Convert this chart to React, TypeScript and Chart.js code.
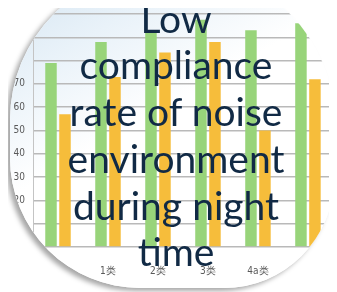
import React, { useEffect, useRef } from "react";
import { Chart, registerables } from "chart.js";

Chart.register(...registerables);

const categories = ["0类", "1类", "2类", "3类", "4a类", "4b类"];
const daytimeRate = [79, 88, 93, 97.5, 93, 96];
const nighttimeRate = [57, 73, 83.5, 88, 50, 72];
const shownTicks = [20, 30, 40, 50, 60, 70];
const titleLines = ["Low", "compliance", "rate of noise", "environment", "during night", "time"];

const tickFont = "'DejaVu Sans Condensed', 'Liberation Sans Narrow', 'Liberation Sans', sans-serif";

export default function App() {
  const ref = useRef<HTMLCanvasElement | null>(null);

  useEffect(() => {
    if (!ref.current) return;
    const chart = new Chart(ref.current, {
      type: "bar",
      data: {
        labels: categories,
        datasets: [
          {
            label: "昼间",
            data: daytimeRate,
            backgroundColor: "#98d47a",
            borderWidth: 0,
            categoryPercentage: 0.56,
            barPercentage: 0.82,
          },
          {
            label: "夜间",
            data: nighttimeRate,
            backgroundColor: "#f6bd3b",
            borderWidth: 0,
            categoryPercentage: 0.56,
            barPercentage: 0.82,
          },
        ],
      },
      options: {
        responsive: false,
        animation: false,
        devicePixelRatio: 1,
        layout: { padding: { top: 5, right: 4, left: 0, bottom: 0 } },
        plugins: {
          legend: { display: false },
          title: { display: false },
          tooltip: { enabled: false },
        },
        scales: {
          x: {
            grid: { display: false, drawTicks: false },
            border: { display: false },
            ticks: {
              color: "#595959",
              padding: 18,
              font: { family: tickFont, size: 10 },
              maxRotation: 0,
              autoSkip: false,
            },
            afterFit: (scale: any) => {
              scale.height = 45;
            },
          },
          y: {
            min: 0,
            max: 100,
            grid: { color: "#b9b9b9", lineWidth: 1.5, drawTicks: false },
            border: { display: true, color: "#c4c4c4", width: 1 },
            ticks: {
              stepSize: 10,
              padding: 8,
              color: "#595959",
              font: { family: tickFont, size: 10 },
              callback: (v: any) => (shownTicks.includes(Number(v)) ? String(v) : ""),
            },
            afterFit: (scale: any) => {
              scale.width = 33;
            },
          },
        },
      },
    });
    return () => chart.destroy();
  }, []);

  return (
    <div
      style={{
        position: "relative",
        width: 337,
        height: 292,
        margin: "-8px 0 0 -8px",
        overflow: "hidden",
        background: "#ffffff",
      }}
    >
      <div
        style={{
          position: "absolute",
          left: 10,
          top: -30,
          width: 324,
          height: 318,
          borderRadius: "150px 150px 110px 130px",
          overflow: "hidden",
          background: "linear-gradient(150deg, #d3e4f1 0%, #e9f2f9 22%, #ffffff 45%)",
          boxShadow: "-4px 3px 5px rgba(0,0,0,0.35)",
        }}
      >
        <canvas
          ref={ref}
          width={337}
          height={292}
          style={{ position: "absolute", left: -10, top: 30, width: 337, height: 292 }}
        />
      </div>
      <div
        style={{
          position: "absolute",
          left: 26,
          width: 300,
          top: -5.5,
          textAlign: "center",
          fontFamily: "Lato, 'Open Sans', sans-serif",
          fontSize: 39,
          lineHeight: "46.8px",
          color: "#112a45",
          whiteSpace: "nowrap",
        }}
      >
        {titleLines.map((t, i) => (
          <div key={i}>{t}</div>
        ))}
      </div>
    </div>
  );
}
